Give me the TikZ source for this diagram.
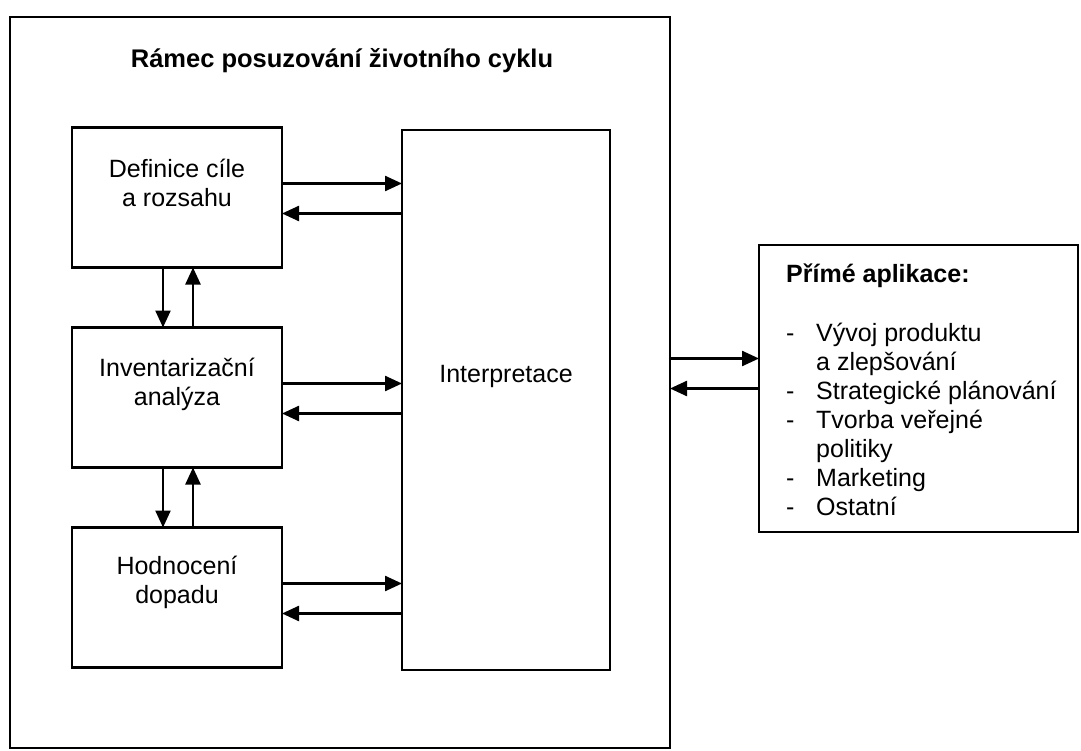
\documentclass[tikz,border=0pt]{standalone}
\usepackage{fontspec}
\setmainfont{Liberation Sans}
\usetikzlibrary{arrows.meta, positioning}

\begin{document}
\begin{tikzpicture}[x=1pt, y=-1pt, line width=2.4pt,
    box/.style={draw, minimum width=210pt, minimum height=140pt, inner sep=0pt, outer sep=0pt},
    txt/.style={font=\fontsize{25}{29}\selectfont, align=center, inner sep=0pt, anchor=base},
    arr/.style={-{Triangle[length=17pt, width=15pt]}}]
    \useasboundingbox (0,0) rectangle (1081,751);
    % outer frame with its title
    \node[box, minimum width=660pt, minimum height=731pt] (frame) at (340,382.5) {};
    \node[txt, font=\fontsize{25.5}{30}\selectfont\bfseries] (title) at (342,68) {Rámec posuzování životního cyklu};
    % the three phases, one under the other
    \node[box] (def) at (177,197.5) {};
    \node[box, below=60pt of def] (inv) {};
    \node[box, below=60pt of inv] (hod) {};
    \node[box, minimum width=208pt, minimum height=540pt] (interp) at (506,400) {};
    % box on the right
    \node[box, minimum width=319pt, minimum height=287pt] (app) at (918.5,388.5) {};
    % texts (base = last line)
    \node[txt] (defl) at ([yshift=-79pt]def.north) {Definice cíle\\a rozsahu};
    \node[txt] (invl) at ([yshift=-78pt]inv.north) {Inventarizační\\analýza};
    \node[txt] (hodl) at ([yshift=-76pt]hod.north) {Hodnocení\\dopadu};
    \node[txt] (interpl) at ([yshift=18pt]interp.center) {Interpretace};
    \node[txt, align=left, anchor=base west] (appl) at ([xshift=26pt, yshift=-270pt]app.north west)
        {\textbf{Přímé aplikace:}\\[30pt]
         \makebox[30pt][l]{-}Vývoj produktu\\
         \hspace*{30pt}a zlepšování\\
         \makebox[30pt][l]{-}Strategické plánování\\
         \makebox[30pt][l]{-}Tvorba veřejné\\
         \hspace*{30pt}politiky\\
         \makebox[30pt][l]{-}Marketing\\
         \makebox[30pt][l]{-}Ostatní};
    % arrows to and from the interpretation
    \foreach \b in {def,inv,hod}{
      \coordinate (o\b) at ([yshift=14pt]\b.east);
      \coordinate (i\b) at ([yshift=-16pt]\b.east);
      \draw[arr] (o\b) -- (o\b -| interp.west);
      \draw[arr] (i\b -| interp.west) -- (i\b);
    }
    % arrows between the phases
    \foreach \u/\l in {def/inv, inv/hod}{
      \draw[arr] ([xshift=-14pt]\u.south) -- ([xshift=-14pt]\l.north);
      \draw[arr] ([xshift=16pt]\l.north) -- ([xshift=16pt]\u.south);
    }
    % arrows between frame and applications
    \coordinate (aout) at ([yshift=30pt]app.west);
    \coordinate (ain) at (app.west);
    \draw[arr] (aout -| frame.east) -- (aout);
    \draw[arr] (ain) -- (ain -| frame.east);
\end{tikzpicture}
\end{document}
